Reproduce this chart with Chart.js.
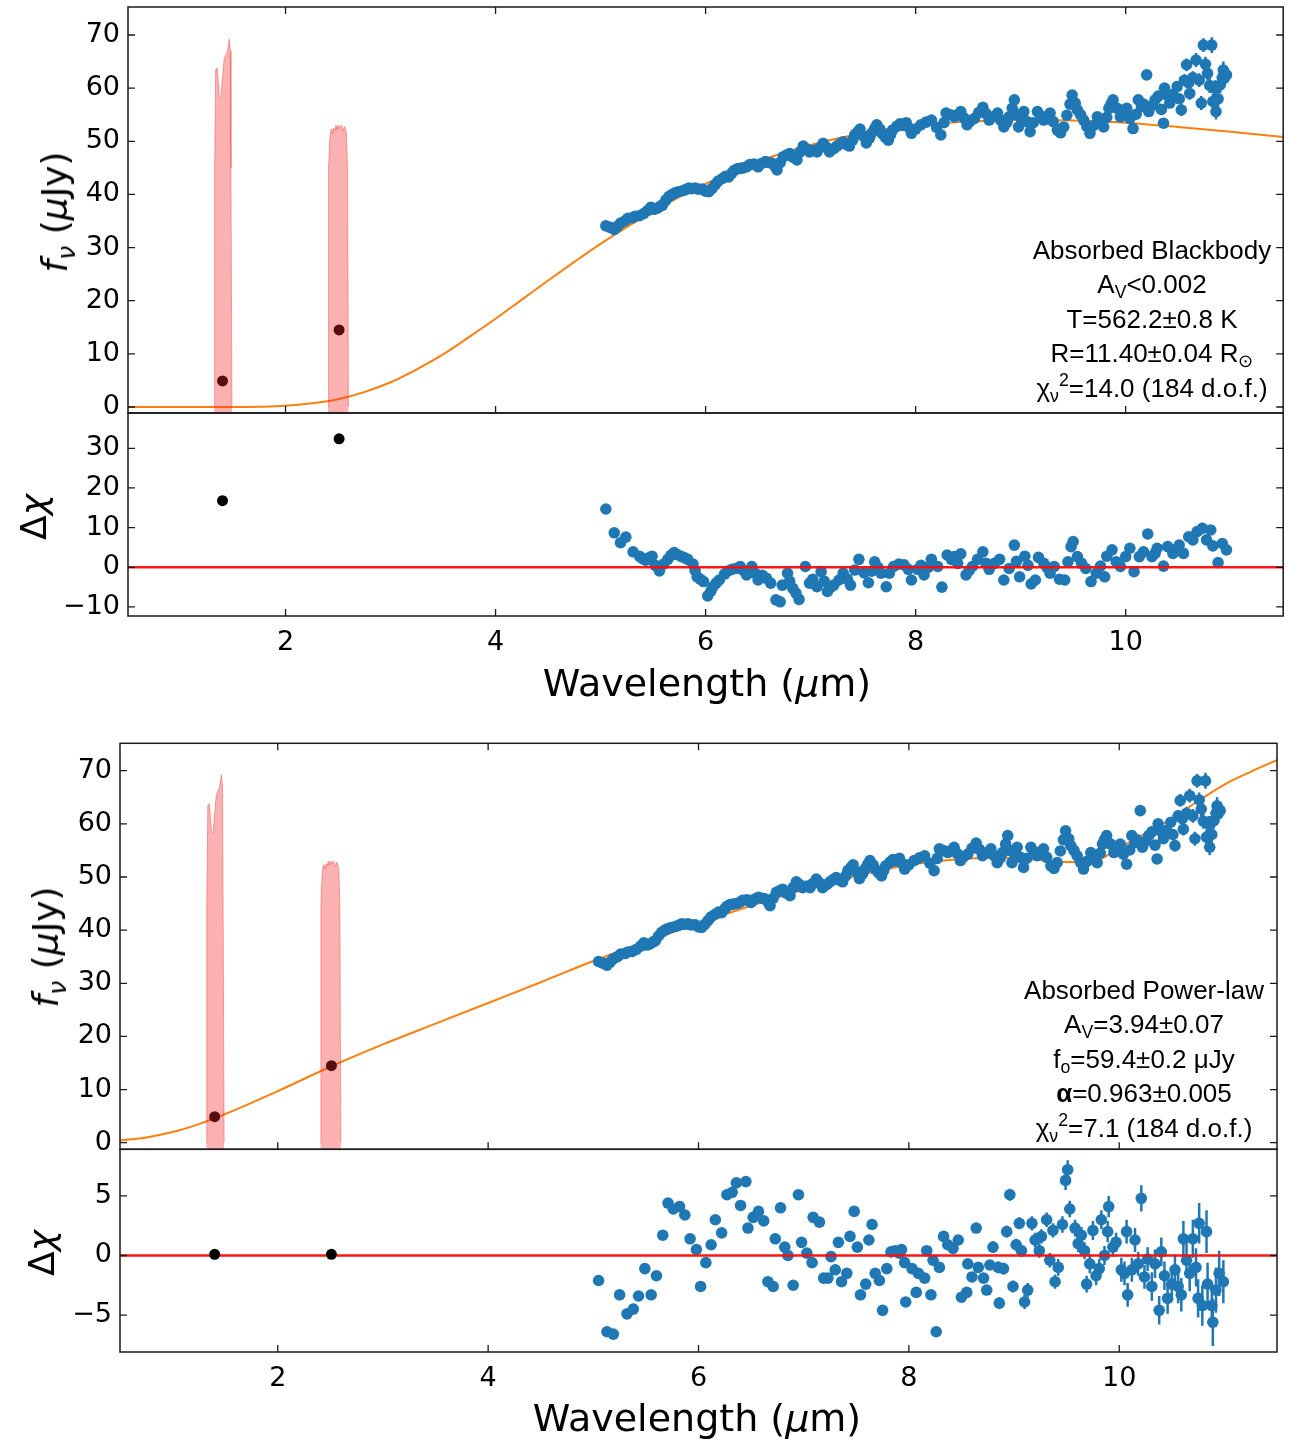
<!DOCTYPE html>
<html><head><meta charset="utf-8">
<script src="https://cdn.jsdelivr.net/npm/chart.js@4/dist/chart.umd.min.js"></script>
<style>
html,body{margin:0;padding:0;background:#fff;}
body{width:1289px;height:1442px;position:relative;overflow:hidden;font-family:'DejaVu Sans',sans-serif;}
canvas{position:absolute;left:0;}
.lab{position:absolute;font-family:'DejaVu Sans',sans-serif;color:#000;white-space:nowrap;z-index:5;transform:translate(-50%,-50%);line-height:1;}
.rot{transform:translate(-50%,-50%) rotate(-90deg);}
.lab sub{font-size:0.7em;vertical-align:-0.3em;line-height:0;}
.ann{position:absolute;font-family:'Liberation Sans',Arial,sans-serif;font-size:26px;text-align:center;width:320px;color:#000;z-index:5;}
.ann div{height:34.4px;line-height:34.4px;white-space:nowrap;}
.ann sub{font-size:0.68em;vertical-align:-0.3em;line-height:0;}
.ann sup{font-size:0.68em;vertical-align:0.6em;line-height:0;}
</style></head>
<body>
<canvas id="cA" width="1289" height="440" style="top:0px"></canvas>
<canvas id="cB" width="1289" height="300" style="top:400px"></canvas>
<canvas id="cC" width="1289" height="460" style="top:720px"></canvas>
<canvas id="cD" width="1289" height="306" style="top:1136px"></canvas>

<div class="lab rot" style="left:55px;top:212px;font-size:36px;"><i>f</i><sub><i>ν</i></sub> (<i>μ</i>Jy)</div>
<div class="lab rot" style="left:34px;top:517px;font-size:36px;">Δ<i>χ</i></div>
<div class="lab" style="left:707px;top:683px;font-size:38px;">Wavelength (<i>μ</i>m)</div>
<div class="lab rot" style="left:46px;top:947px;font-size:36px;"><i>f</i><sub><i>ν</i></sub> (<i>μ</i>Jy)</div>
<div class="lab rot" style="left:42px;top:1253px;font-size:36px;">Δ<i>χ</i></div>
<div class="lab" style="left:697px;top:1418px;font-size:38px;">Wavelength (<i>μ</i>m)</div>

<div class="ann" style="left:992px;top:233px;">
<div>Absorbed Blackbody</div>
<div>A<sub>V</sub>&lt;0.002</div>
<div>T=562.2±0.8 K</div>
<div>R=11.40±0.04 R<sub>⊙</sub></div>
<div>χ<sub>ν</sub><sup>2</sup>=14.0 (184 d.o.f.)</div>
</div>
<div class="ann" style="left:984px;top:973px;">
<div>Absorbed Power-law</div>
<div>A<sub>V</sub>=3.94±0.07</div>
<div>f<sub>o</sub>=59.4±0.2 μJy</div>
<div><b>α</b>=0.963±0.005</div>
<div>χ<sub>ν</sub><sup>2</sup>=7.1 (184 d.o.f.)</div>
</div>

<script>
// ---------------- DATA ----------------
const xTickVals = [2, 4, 6, 8, 10];
const fluxTicks = [0, 10, 20, 30, 40, 50, 60, 70];
const resBBTicks = [-10, 0, 10, 20, 30];
const resPLTicks = [-5, 0, 5];

// spectrum (shared by both fits)
const wlFlux = [5.05,5.09,5.13,5.16,5.19,5.23,5.26,5.30,5.33,5.37,5.41,5.45,5.48,5.51,5.54,5.57,5.59,5.62,5.65,5.68,
5.71,5.74,5.78,5.81,5.84,5.87,5.90,5.93,5.97,6.00,6.03,6.06,6.09,6.12,6.16,6.19,6.22,6.25,6.27,6.30,
6.33,6.36,6.39,6.42,6.46,6.50,6.53,6.57,6.60,6.63,6.66,6.68,6.71,6.74,6.77,6.80,6.83,6.87,6.90,6.93,
6.96,6.99,7.03,7.06,7.09,7.12,7.15,7.18,7.22,7.25,7.28,7.31,7.34,7.37,7.40,7.42,7.45,7.47,7.50,7.53,
7.56,7.58,7.61,7.63,7.66,7.68,7.71,7.74,7.76,7.78,7.82,7.85,7.88,7.91,7.94,7.96,8.00,8.05,8.10,8.15,
8.20,8.24,8.27,8.29,8.33,8.37,8.40,8.43,8.46,8.49,8.52,8.56,8.60,8.64,8.67,8.70,8.74,8.78,8.81,8.84,
8.87,8.89,8.92,8.94,8.96,8.98,9.01,9.03,9.06,9.09,9.12,9.16,9.19,9.22,9.25,9.28,9.31,9.35,9.38,9.41,
9.44,9.47,9.49,9.52,9.54,9.57,9.60,9.63,9.66,9.69,9.73,9.76,9.79,9.82,9.84,9.86,9.88,9.92,9.95,9.98,
10.01,10.04,10.07,10.10,10.12,10.15,10.17,10.20,10.22,10.25,10.28,10.31,10.34,10.36,10.37,10.40,10.42,10.45,10.49,10.51,
10.53,10.56,10.58,10.60,10.61,10.64,10.67,10.70,10.72,10.74,10.76,10.78,10.80,10.82,10.83,10.85,10.86,10.88,10.90,10.92,
10.93,10.94,10.96];
const fluxVal = [34.1,33.8,33.4,34.0,34.6,35.0,35.5,35.6,35.9,36.0,36.4,37.0,37.6,37.2,37.4,37.8,38.0,38.9,39.6,40.0,
40.3,40.5,40.7,40.9,41.2,41.1,41.2,41.0,41.0,40.6,40.5,41.1,41.8,42.5,43.0,43.4,43.3,44.0,44.5,44.8,
44.9,45.0,45.2,45.6,45.7,45.2,45.8,46.2,46.0,45.9,45.3,44.6,46.0,47.1,47.4,47.7,47.0,46.5,48.0,49.1,
48.6,48.0,48.3,48.0,48.8,49.6,48.9,48.0,48.6,49.1,49.5,49.9,49.4,49.1,50.2,51.2,51.8,52.3,51.0,49.7,
50.6,51.5,52.4,53.1,52.3,51.5,50.8,50.2,51.2,52.1,52.8,53.3,53.0,53.5,52.5,51.5,52.3,53.1,53.6,54.0,
52.6,51.2,53.5,55.3,55.0,54.6,55.0,55.6,54.4,53.1,53.8,54.3,55.4,56.4,55.2,54.0,54.6,55.3,54.0,52.7,
53.6,54.6,56.2,57.8,55.0,52.7,54.1,55.6,53.7,51.8,53.5,55.6,54.8,54.0,54.6,55.3,53.7,52.1,51.6,52.7,
54.9,57.0,58.7,57.2,55.9,55.0,54.0,52.8,51.5,52.9,54.6,53.6,52.7,54.5,56.2,57.0,57.8,56.2,54.6,55.4,
56.2,54.3,52.4,55.1,57.8,56.5,57.0,62.5,55.6,56.7,57.8,58.5,56.0,53.4,60.0,58.6,57.2,58.8,60.3,58.0,
55.9,61.5,64.4,61.0,59.0,62.0,65.3,61.5,57.2,68.1,64.5,62.8,60.5,68.1,57.5,60.0,55.6,58.0,60.6,62.0,
63.4,61.9,62.5];
const errFlux = [0.3,0.3,0.3,0.3,0.3,0.3,0.3,0.3,0.3,0.3,0.3,0.3,0.3,0.3,0.3,0.3,0.3,0.3,0.3,0.3,
0.3,0.3,0.3,0.3,0.3,0.3,0.3,0.3,0.3,0.3,0.3,0.3,0.3,0.3,0.3,0.3,0.3,0.3,0.3,0.3,
0.3,0.3,0.3,0.3,0.3,0.3,0.3,0.3,0.3,0.3,0.3,0.3,0.3,0.3,0.3,0.3,0.3,0.3,0.3,0.3,
0.3,0.3,0.3,0.3,0.3,0.3,0.3,0.3,0.3,0.3,0.3,0.3,0.3,0.3,0.3,0.3,0.3,0.3,0.3,0.3,
0.3,0.3,0.3,0.3,0.3,0.3,0.3,0.3,0.3,0.3,0.3,0.3,0.3,0.3,0.3,0.3,0.3,0.3,0.3,0.3,
0.3,0.3,0.3,0.3,0.3,0.3,0.3,0.3,0.3,0.3,0.3,0.3,0.3,0.3,0.3,0.3,0.3,0.3,0.3,0.3,
0.4,0.4,0.4,0.4,0.4,0.4,0.4,0.4,0.4,0.4,0.4,0.4,0.4,0.4,0.4,0.4,0.4,0.4,0.4,0.4,
0.5,0.5,0.5,0.5,0.5,0.5,0.5,0.5,0.5,0.5,0.5,0.5,0.5,0.5,0.5,0.5,0.5,0.5,0.5,0.5,
0.8,0.8,0.8,0.8,0.8,0.8,0.8,0.8,0.8,0.8,0.9,0.9,0.9,0.9,0.9,0.9,0.9,0.9,1.0,1.0,
1.1,1.1,1.2,1.2,1.2,1.2,1.3,1.3,1.3,1.3,1.4,1.4,1.4,1.5,1.5,1.5,1.5,1.5,1.5,1.5,
1.6,1.6,1.6];

// photometric points (HST-like filters)
const photWl = [1.40, 2.51];
const photFlux = [4.9, 14.5];
const photResBB = [16.8, 32.4];
const photResPL = [0.1, 0.1];

// filter transmission curves (scaled)
const filt1Wl = [1.320,1.325,1.335,1.350,1.360,1.370,1.385,1.395,1.405,1.415,1.430,1.445,1.455,1.465,1.475,1.480,1.490];
const filt1Val = [0,45,63.5,63.8,61.0,58.5,58.2,61.0,63.0,65.5,66.2,66.8,68.0,69.2,67.0,45,0];
const filt2Wl = [2.405,2.410,2.420,2.430,2.440,2.450,2.460,2.470,2.480,2.490,2.500,2.510,2.520,2.530,2.540,2.550,2.560,2.570,2.580,2.590,2.600];
const filt2Val = [0,45,50.0,52.0,52.3,51.5,52.5,52.0,53.0,52.2,53.0,52.4,52.8,53.0,52.5,52.0,52.8,52.3,51.5,45,0];

// model curves
const bbWl = [0.5,1.0,1.5,1.75,2.0,2.25,2.5,2.75,3.0,3.25,3.5,3.75,4.0,4.25,4.5,4.75,5.0,5.5,6.0,6.5,7.0,7.5,8.0,8.5,9.0,9.5,10.0,10.5,11.0,11.5];
const bbVal = [0.0,0.0,0.0,0.05,0.22,0.7,1.46,2.8,4.65,7.1,9.9,13.2,16.6,20.2,23.8,27.3,30.7,36.8,42.0,46.2,49.3,51.5,53.0,53.7,54.0,53.9,53.5,52.7,51.8,50.8];
const plWl = [0.5,0.75,1.0,1.25,1.5,1.75,2.0,2.5,3.0,3.5,4.0,4.5,5.0,5.5,6.0,6.5,7.0,7.5,8.0,8.5,9.0,9.25,9.5,9.75,10.0,10.25,10.5,10.75,11.0,11.25,11.5];
const plVal = [0.4,1.0,2.0,3.5,5.4,7.5,9.7,14.3,18.5,22.4,26.3,30.2,34.2,37.8,41.3,44.6,47.6,50.2,52.3,53.4,53.6,53.2,52.8,52.9,55.5,58.2,61.0,64.3,67.4,69.8,72.0];

// residuals, blackbody fit
const wlResBB = [5.05,5.13,5.19,5.24,5.31,5.37,5.40,5.43,5.46,5.49,5.52,5.56,5.60,5.64,5.67,5.70,5.73,5.77,5.80,5.83,
5.88,5.90,5.92,5.95,5.98,6.02,6.05,6.07,6.10,6.13,6.18,6.21,6.25,6.29,6.33,6.36,6.39,6.44,6.47,6.50,
6.54,6.58,6.62,6.67,6.71,6.73,6.78,6.80,6.83,6.86,6.89,6.95,6.99,7.02,7.06,7.10,7.13,7.16,7.19,7.22,
7.27,7.31,7.35,7.38,7.42,7.46,7.51,7.55,7.58,7.61,7.64,7.67,7.72,7.75,7.79,7.84,7.89,7.93,7.96,8.02,
8.05,8.08,8.12,8.15,8.21,8.25,8.30,8.34,8.37,8.40,8.43,8.48,8.51,8.54,8.59,8.64,8.67,8.70,8.75,8.80,
8.84,8.89,8.94,8.96,8.99,9.04,9.07,9.10,9.14,9.17,9.22,9.25,9.28,9.32,9.37,9.42,9.45,9.48,9.50,9.54,
9.58,9.62,9.67,9.72,9.76,9.80,9.82,9.87,9.91,9.95,10.00,10.04,10.08,10.13,10.17,10.21,10.25,10.28,10.30,10.36,
10.40,10.45,10.48,10.51,10.55,10.60,10.64,10.68,10.73,10.77,10.81,10.83,10.88,10.92,10.96];
const resBB = [14.7,8.7,6.2,7.6,3.9,2.8,2.2,1.8,2.4,2.8,0.5,-0.9,0.8,2.0,3.0,3.7,3.2,2.7,2.4,2.0,
0.8,-0.8,-2.4,-3.0,-3.6,-7.2,-6.0,-4.9,-4.0,-3.2,-1.7,-1.0,-0.5,-0.3,0.2,-0.8,-1.9,0.2,-1.5,-3.2,
-2.0,-2.8,-4.0,-8.2,-8.7,-4.5,-1.5,-3.5,-5.3,-6.5,-8.1,0.2,-4.0,-3.0,-4.9,-1.1,-3.5,-6.1,-5.0,-4.5,
-3.2,-1.5,-3.0,-4.5,-0.7,2.0,-1.4,-3.9,-1.0,1.4,0.0,-1.5,-4.9,-1.5,0.2,0.8,0.6,-0.5,-3.2,-0.5,
0.5,-1.9,0.0,2.0,0.2,-5.0,3.1,2.0,2.7,1.0,3.4,-1.9,-0.8,0.2,2.0,3.9,1.0,-0.5,1.0,2.0,
-3.2,-0.3,5.6,1.5,-2.4,2.8,0.5,-4.2,-3.2,2.5,1.0,0.0,-1.5,0.2,-3.0,-3.2,1.4,5.2,6.5,2.7,
1.0,-0.3,-3.6,-1.5,0.3,-2.4,2.8,4.4,1.4,0.2,2.7,4.8,-1.1,2.7,3.9,8.4,2.7,3.5,4.8,0.3,
5.2,3.5,4.5,5.6,3.5,7.7,6.9,9.0,9.8,6.9,9.4,5.4,1.2,6.0,4.4];

// residuals, power-law fit
const wlResPL = [5.05,5.13,5.19,5.25,5.32,5.38,5.43,5.49,5.55,5.60,
5.66,5.71,5.76,5.82,5.87,5.92,5.98,6.02,6.07,6.12,
6.16,6.22,6.27,6.32,6.36,6.40,6.45,6.47,6.52,6.57,
6.62,6.66,6.71,6.73,6.78,6.82,6.85,6.90,6.95,6.98,
7.03,7.08,7.09,7.15,7.19,7.23,7.26,7.30,7.33,7.36,
7.41,7.44,7.48,7.51,7.54,7.59,7.62,7.65,7.68,7.72,
7.75,7.79,7.83,7.87,7.91,7.93,7.96,7.97,8.03,8.07,
8.09,8.15,8.17,8.21,8.23,8.26,8.29,8.33,8.37,8.42,
8.47,8.50,8.55,8.56,8.60,8.64,8.66,8.71,8.74,8.77,
8.80,8.85,8.86,8.90,8.93,8.96,8.99,9.02,9.05,9.07,
9.10,9.13,9.17,9.20,9.24,9.26,9.31,9.34,9.37,9.39,
9.42,9.46,9.49,9.51,9.53,9.58,9.61,9.64,9.67,9.69,
9.72,9.75,9.78,9.81,9.83,9.86,9.89,9.90,9.94,9.97,
10.02,10.05,10.07,10.08,10.12,10.15,10.18,10.21,10.24,10.27,
10.31,10.34,10.38,10.40,10.43,10.46,10.50,10.53,10.56,10.59,
10.61,10.64,10.67,10.70,10.73,10.75,10.76,10.79,10.83,10.84,
10.88,10.89,10.92,10.95,10.99];
const resPL = [-2.1,-6.4,-6.6,-3.3,-4.9,-4.5,-3.4,-1.1,-3.3,-1.7,
1.7,4.4,3.9,4.1,3.4,1.4,0.5,-2.6,-0.6,0.9,
3.0,1.9,5.1,5.3,6.1,4.2,6.2,2.3,3.2,3.7,
2.9,-2.2,-2.6,1.4,4.0,0.7,0.0,-2.5,5.1,1.1,
0.2,-0.6,3.2,2.8,-1.9,-1.9,-0.1,-1.2,1.1,-2.2,
-1.5,1.6,3.7,0.7,-3.3,-2.4,1.3,2.6,-1.5,-2.1,
-4.6,-1.1,0.3,0.4,0.2,0.5,-0.6,-3.9,-1.1,-3.1,
-1.5,-1.9,0.4,-3.3,-0.4,-6.4,-1.0,1.6,0.9,0.6,
1.3,-3.5,-3.1,-0.7,-1.8,2.3,-1.0,-1.9,-2.9,-0.8,
0.7,-1.0,-4.0,-1.1,2.0,5.1,-2.6,0.9,2.7,0.4,
-3.9,-2.9,2.7,1.3,0.4,1.6,3.0,-0.4,2.1,-2.2,
-1.0,2.6,6.3,7.2,3.9,2.3,1.0,1.7,0.4,-2.4,
-0.7,2.1,-1.7,-1.1,3.0,0.0,2.0,4.1,0.7,1.1,
-1.2,-1.5,2.0,-3.3,-1.2,1.3,-0.7,4.8,-1.8,-0.3,
-2.6,-0.7,-4.6,0.3,-1.7,-3.6,-2.4,-1.2,-2.6,-3.3,
1.4,-0.4,-1.5,1.4,-1.0,-3.6,2.7,-4.2,2.0,-2.4,
-4.2,-5.6,-2.9,-1.5,-2.2];
const errPL = [0.2,0.2,0.2,0.2,0.2,0.2,0.2,0.2,0.2,0.2,
0.2,0.2,0.2,0.2,0.2,0.2,0.2,0.2,0.2,0.2,
0.2,0.2,0.2,0.2,0.2,0.2,0.2,0.2,0.2,0.2,
0.2,0.2,0.2,0.2,0.2,0.2,0.2,0.2,0.2,0.2,
0.2,0.2,0.2,0.2,0.2,0.2,0.2,0.2,0.2,0.2,
0.2,0.2,0.2,0.2,0.2,0.2,0.2,0.2,0.2,0.2,
0.3,0.3,0.3,0.3,0.3,0.3,0.3,0.3,0.3,0.3,
0.3,0.3,0.3,0.3,0.3,0.3,0.3,0.3,0.3,0.3,
0.4,0.4,0.4,0.4,0.4,0.4,0.4,0.4,0.4,0.4,
0.5,0.5,0.5,0.5,0.5,0.5,0.5,0.5,0.5,0.5,
0.6,0.6,0.6,0.6,0.6,0.6,0.6,0.6,0.6,0.6,
0.7,0.7,0.8,0.8,0.7,0.7,0.7,0.7,0.7,0.7,
0.8,0.8,0.8,0.8,0.8,0.8,0.9,0.9,0.8,0.8,
1.0,1.0,1.0,1.0,1.0,1.0,1.0,1.1,1.0,1.0,
1.2,1.2,1.2,1.2,1.2,1.3,1.3,1.3,1.4,1.4,
1.5,1.5,1.5,1.6,1.6,1.6,1.7,1.7,1.8,1.8,
1.9,2.0,1.9,1.9,1.8];

// ---------------- HELPERS ----------------
const pts = (xs, ys) => xs.map((x, i) => ({x: x, y: ys[i]}));
const BLUE = '#1f77b4', ORANGE = '#ff7f0e';
const fmt = v => v < 0 ? '\u2212' + Math.abs(v) : String(v);

const framePlugin = {
  id: 'frame',
  afterDraw(chart, args, opts) {
    const ctx = chart.ctx, a = chart.chartArea, x = chart.scales.x, y = chart.scales.y;
    ctx.save();
    ctx.strokeStyle = '#1a1a1a';
    ctx.lineWidth = 1.5;
    ctx.strokeRect(a.left, a.top, a.right - a.left, a.bottom - a.top);
    const L = 7;
    ctx.lineWidth = 1.3;
    ctx.beginPath();
    xTickVals.forEach(v => {
      const px = x.getPixelForValue(v);
      ctx.moveTo(px, a.bottom); ctx.lineTo(px, a.bottom - L);
      if (opts.topTicks) { ctx.moveTo(px, a.top); ctx.lineTo(px, a.top + L); }
    });
    opts.yTicks.forEach(v => {
      const py = y.getPixelForValue(v);
      ctx.moveTo(a.left, py); ctx.lineTo(a.left + L, py);
      ctx.moveTo(a.right, py); ctx.lineTo(a.right - L, py);
    });
    ctx.stroke();
    ctx.restore();
  }
};

const errPlugin = {
  id: 'errbars',
  beforeDatasetsDraw(chart) {
    const ctx = chart.ctx, ys = chart.scales.y, a = chart.chartArea;
    chart.data.datasets.forEach((ds, i) => {
      if (!ds.errorBars) return;
      const meta = chart.getDatasetMeta(i);
      ctx.save();
      ctx.beginPath(); ctx.rect(a.left, a.top, a.right - a.left, a.bottom - a.top); ctx.clip();
      ctx.strokeStyle = ds.backgroundColor; ctx.lineWidth = 2.5;
      meta.data.forEach((el, j) => {
        const e = ds.errorBars[j]; if (!e) return;
        const v = ds.data[j].y;
        ctx.beginPath();
        ctx.moveTo(el.x, ys.getPixelForValue(v - e));
        ctx.lineTo(el.x, ys.getPixelForValue(v + e));
        ctx.stroke();
      });
      ctx.restore();
    });
  }
};

function makeChart(id, cfg) {
  const yTicks = cfg.yTicks;
  return new Chart(document.getElementById(id), {
    type: 'scatter',
    data: { datasets: cfg.datasets },
    plugins: [errPlugin, framePlugin],
    options: {
      responsive: false, animation: false, devicePixelRatio: 1, events: [],
      layout: { padding: cfg.padding },
      plugins: { legend: { display: false }, tooltip: { enabled: false },
                 frame: { yTicks: yTicks, topTicks: cfg.topTicks } },
      scales: {
        x: {
          type: 'linear', min: 0.5, max: 11.5, display: cfg.showX,
          grid: { display: false, drawTicks: false, tickLength: 0 },
          border: { display: false },
          afterBuildTicks: s => { s.ticks = xTickVals.map(v => ({value: v})); },
          afterFit: s => { if (cfg.showX) s.height = cfg.xHeight; s.paddingLeft = 0; s.paddingRight = 0; s.paddingTop = 0; s.paddingBottom = 0; },
          ticks: { font: { family: 'DejaVu Sans', size: 27 }, color: '#000', padding: 11, maxRotation: 0, autoSkip: false, callback: fmt }
        },
        y: {
          type: 'linear', min: cfg.yMin, max: cfg.yMax,
          grid: { display: false, drawTicks: false, tickLength: 0 },
          border: { display: false },
          afterBuildTicks: s => { s.ticks = yTicks.map(v => ({value: v})); },
          afterFit: s => { s.width = cfg.yWidth; s.paddingTop = 0; s.paddingBottom = 0; s.paddingLeft = 0; s.paddingRight = 0; },
          ticks: { font: { family: 'DejaVu Sans', size: 27 }, color: '#000', padding: 8, autoSkip: false, callback: fmt }
        }
      }
    }
  });
}

function mainSets(modelWl, modelVal) {
  return [
    { type: 'line', data: pts(filt1Wl, filt1Val), fill: 'start', backgroundColor: 'rgba(245,40,40,0.36)', borderColor: 'rgba(240,60,60,0.45)', borderWidth: 1, pointRadius: 0, tension: 0, order: 1 },
    { type: 'line', data: pts(filt2Wl, filt2Val), fill: 'start', backgroundColor: 'rgba(245,40,40,0.36)', borderColor: 'rgba(240,60,60,0.45)', borderWidth: 1, pointRadius: 0, tension: 0, order: 1 },
    { data: pts(photWl, photFlux), backgroundColor: '#000', borderWidth: 0, pointRadius: 5.5, order: 2 },
    { data: pts(wlFlux, fluxVal), backgroundColor: BLUE, borderWidth: 0, pointRadius: 5.8, order: 3, errorBars: errFlux },
    { type: 'line', data: pts(modelWl, modelVal), borderColor: ORANGE, borderWidth: 2, pointRadius: 0, fill: false, cubicInterpolationMode: 'monotone', order: 4 }
  ];
}

makeChart('cA', {
  padding: { left: 0, right: 3, top: 7, bottom: 27 },
  yWidth: 128, showX: false, topTicks: true, yTicks: fluxTicks,
  yMin: -1.13, yMax: 75.27,
  datasets: mainSets(bbWl, bbVal)
});

makeChart('cB', {
  padding: { left: 0, right: 3, top: 13, bottom: 0 },
  yWidth: 128, showX: true, xHeight: 84, topTicks: false, yTicks: resBBTicks,
  yMin: -12.28, yMax: 38.9,
  datasets: [
    { data: pts(photWl, photResBB), backgroundColor: '#000', borderWidth: 0, pointRadius: 5.5, order: 1 },
    { type: 'line', data: [{x: 0.5, y: 0}, {x: 11.5, y: 0}], borderColor: 'rgba(255,10,10,0.95)', borderWidth: 2.5, pointRadius: 0, fill: false, order: 2 },
    { data: pts(wlResBB, resBB), backgroundColor: BLUE, borderWidth: 0, pointRadius: 5.8, order: 3 }
  ]
});

makeChart('cC', {
  padding: { left: 0, right: 12, top: 23.3, bottom: 30.7 },
  yWidth: 120, showX: false, topTicks: true, yTicks: fluxTicks,
  yMin: -1.24, yMax: 75.16,
  datasets: mainSets(plWl, plVal)
});

makeChart('cD', {
  padding: { left: 0, right: 12, top: 13.3, bottom: 0 },
  yWidth: 120, showX: true, xHeight: 90, topTicks: false, yTicks: resPLTicks,
  yMin: -8.10, yMax: 8.91,
  datasets: [
    { data: pts(photWl, photResPL), backgroundColor: '#000', borderWidth: 0, pointRadius: 5.5, order: 1 },
    { type: 'line', data: [{x: 0.5, y: 0}, {x: 11.5, y: 0}], borderColor: 'rgba(255,10,10,0.95)', borderWidth: 2.5, pointRadius: 0, fill: false, order: 2 },
    { data: pts(wlResPL, resPL), backgroundColor: BLUE, borderWidth: 0, pointRadius: 5.8, order: 3, errorBars: errPL }
  ]
});
</script>
</body></html>
